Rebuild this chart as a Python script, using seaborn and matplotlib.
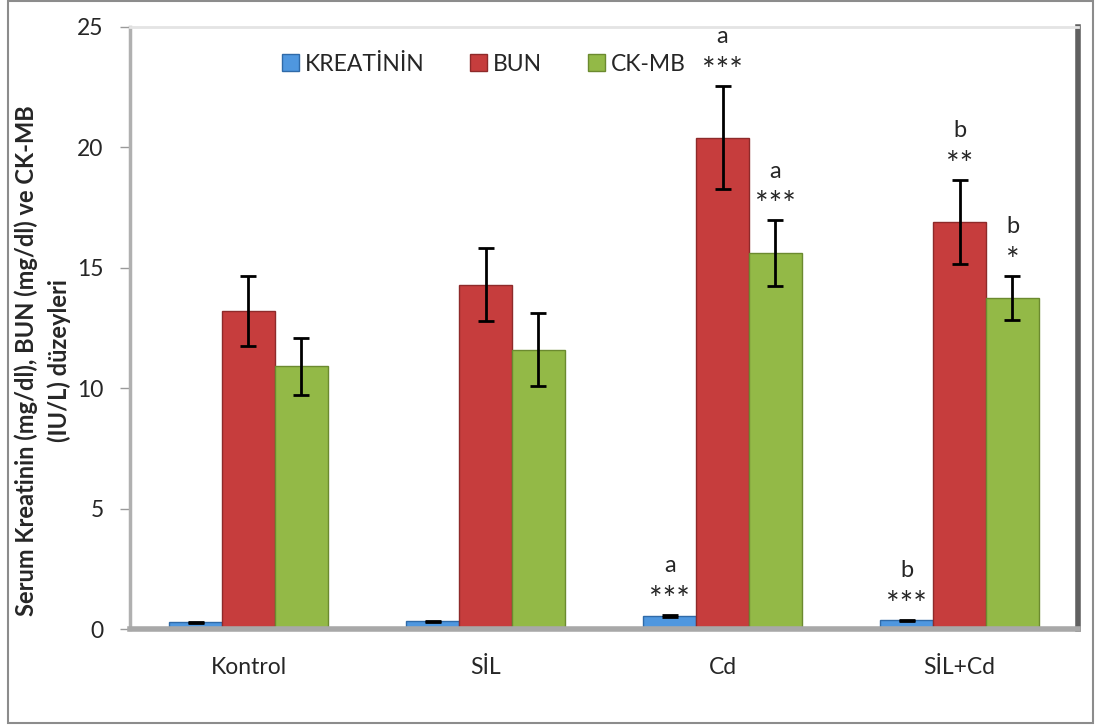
import pandas as pd
import matplotlib.pyplot as plt
import seaborn as sns
from matplotlib.patches import Patch, Rectangle

# values
groups = ["Kontrol", "SİL", "Cd", "SİL+Cd"]
series = ["KREATİNİN", "BUN", "CK-MB"]
kreatinin = [0.28, 0.32, 0.55, 0.36]
kreatinin_err = [0.03, 0.03, 0.04, 0.03]
bun = [13.2, 14.3, 20.4, 16.9]
bun_err = [1.45, 1.5, 2.15, 1.76]
ckmb = [10.9, 11.6, 15.6, 13.75]
ckmb_err = [1.2, 1.5, 1.37, 0.92]

# significance marks (letter, stars) per series and group
kreatinin_sig = [None, None, ("a", "***"), ("b", "***")]
bun_sig = [None, None, ("a", "***"), ("b", "**")]
ckmb_sig = [None, None, ("a", "***"), ("b", "*")]

colors = ["#4f97df", "#c63d3d", "#93b947"]
edges = ["#2f6aa8", "#8e2a2a", "#6b8a2f"]

df = pd.DataFrame({
    "grup": groups * 3,
    "seri": [s for s in series for _ in groups],
    "deger": kreatinin + bun + ckmb,
})
errs = [kreatinin_err, bun_err, ckmb_err]
sigs = [kreatinin_sig, bun_sig, ckmb_sig]

sns.set_style("white")
plt.rcParams["font.family"] = ["Lato", "DejaVu Sans"]

fig = plt.figure(figsize=(10.96, 7.26), dpi=100)
ax = fig.add_axes([0.1186, 0.1336, 0.8650, 0.8294])

sns.barplot(data=df, x="grup", y="deger", hue="seri", order=groups,
            hue_order=series, palette=colors, errorbar=None, width=0.67,
            saturation=1, legend=False, ax=ax)

bar_conts = list(ax.containers)
for i, cont in enumerate(bar_conts):
    for j, bar in enumerate(cont):
        bar.set_edgecolor(edges[i])
        bar.set_linewidth(1)
        xc = bar.get_x() + bar.get_width() / 2
        h = bar.get_height()
        ax.errorbar(xc, h, yerr=errs[i][j], color="black", capsize=6,
                    capthick=2, elinewidth=2, zorder=5)
        if sigs[i][j] is not None:
            letter, stars = sigs[i][j]
            top = h + errs[i][j]
            ax.annotate(stars, (xc, top), xytext=(0, 14),
                        textcoords="offset pixels", ha="center",
                        va="center", fontsize=23)
            ax.annotate(letter, (xc, top), xytext=(0, 49),
                        textcoords="offset pixels", ha="center",
                        va="center", fontsize=17)

ax.set_ylim(0, 25)
ax.set_xlim(-0.5, 3.5)
ax.set_yticks([0, 5, 10, 15, 20, 25])
ax.tick_params(axis="y", labelsize=16.5, length=7, width=1, color="#9a9a9a",
               left=True, pad=12)
ax.tick_params(axis="x", labelsize=16.5, length=0, pad=20)
ax.set_xlabel("")
ax.set_ylabel("Serum Kreatinin (mg/dl), BUN (mg/dl) ve CK-MB\n(IU/L) düzeyleri",
              fontsize=17, fontweight="bold", linespacing=1.5,
              va="center", ha="center")
ax.yaxis.set_label_coords(-0.092, 0.445)

# 3D-ish wall look
ax.spines["left"].set_color("#b0b0b0")
ax.spines["left"].set_linewidth(2.5)
ax.spines["bottom"].set_color("#a8a8a8")
ax.spines["bottom"].set_linewidth(4)
ax.spines["right"].set_color("#606060")
ax.spines["right"].set_linewidth(4)
ax.spines["top"].set_color("#e4e4e4")
ax.spines["top"].set_linewidth(2)

handles = [Patch(facecolor=c, edgecolor=e) for c, e in zip(colors, edges)]
ax.legend(handles, series, loc="upper center", bbox_to_anchor=(0.373, 0.99),
          ncol=3, frameon=False, fontsize=16.5, handlelength=0.75,
          handleheight=0.75, handletextpad=0.25, columnspacing=2.0)

fig.patches.append(Rectangle((0.007, 0.004), 0.99, 0.994, fill=False,
                             edgecolor="#8c8c8c", linewidth=1.5,
                             transform=fig.transFigure))

fig.savefig("out.png", dpi=100)
